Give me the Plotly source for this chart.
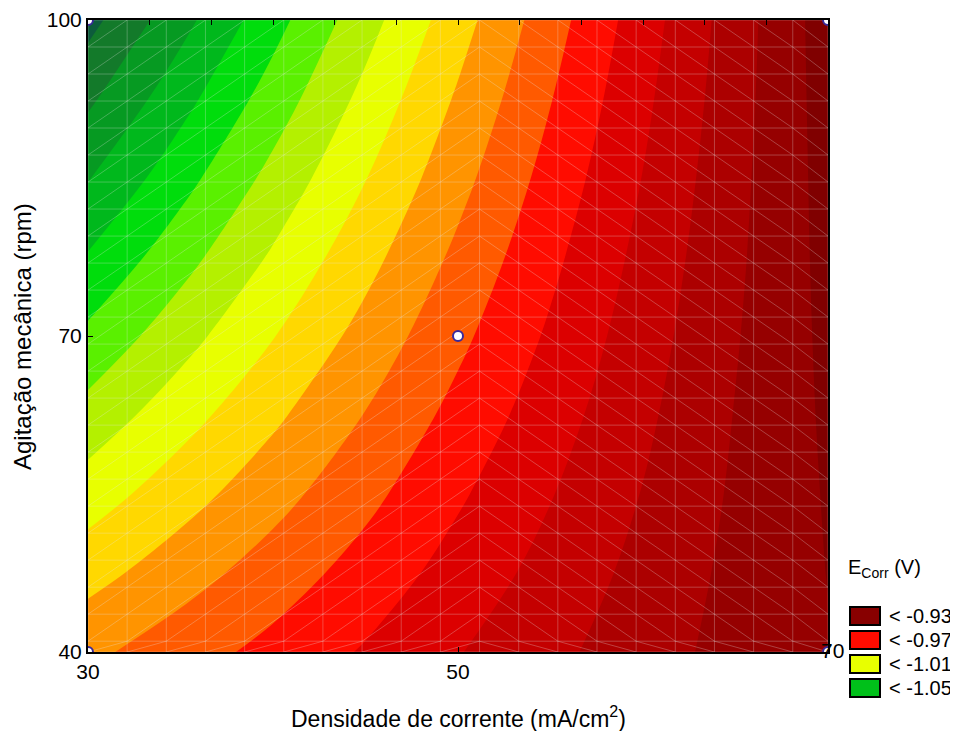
import numpy as np
import plotly.graph_objects as go

# ---------------- data ----------------
x_density = [30, 35, 40, 45, 50, 55, 60, 65, 70]            # mA/cm2
y_agitation = [40, 47.5, 55, 62.5, 70, 77.5, 85, 92.5, 100]  # rpm
# E_corr (V), one row per agitation value
ecorr = [
    [-0.9923, -0.9845, -0.9770, -0.9690, -0.9605, -0.9525, -0.9445, -0.9365, -0.9305],
    [-1.0037, -0.9944, -0.9853, -0.9759, -0.9660, -0.9565, -0.9470, -0.9375, -0.9298],
    [-1.0151, -1.0043, -0.9937, -0.9828, -0.9714, -0.9605, -0.9496, -0.9386, -0.9292],
    [-1.0264, -1.0141, -1.0020, -0.9896, -0.9769, -0.9645, -0.9521, -0.9396, -0.9285],
    [-1.0378, -1.0240, -1.0104, -0.9965, -0.9824, -0.9685, -0.9546, -0.9407, -0.9278],
    [-1.0492, -1.0339, -1.0187, -1.0034, -0.9878, -0.9724, -0.9571, -0.9418, -0.9271],
    [-1.0606, -1.0438, -1.0270, -1.0103, -0.9933, -0.9764, -0.9597, -0.9428, -0.9265],
    [-1.0719, -1.0536, -1.0354, -1.0171, -0.9987, -0.9804, -0.9622, -0.9439, -0.9258],
    [-1.0833, -1.0635, -1.0437, -1.0240, -1.0042, -0.9844, -0.9647, -0.9449, -0.9251],
]
design_x = [50, 30, 30, 70, 70]
design_y = [70, 40, 100, 40, 100]

x_tick_vals = [30, 50, 70]
y_tick_vals = [40, 70, 100]
legend_labels = ["< -0.93", "< -0.97", "< -1.01", "< -1.05"]
legend_colors = ["#880000", "#ff0c00", "#e8ff00", "#00c01a"]

level_start, level_end, level_size = -1.08, -0.93, 0.01
band_colors = [
    "#0d5c3c", "#137a2a", "#069a22", "#00b81c", "#00dd0c", "#5af000",
    "#b4f000", "#e8ff00", "#ffd800", "#ff9400", "#ff5a00", "#ff0c00",
    "#dc0000", "#c40000", "#ac0000", "#960000", "#800000",
]

# ---------------- figure ----------------
FONT = "Arial, Liberation Sans, sans-serif"
X0, X1, Y0, Y1 = 30, 70, 40, 100

n = len(band_colors) - 1
edges = [i / n for i in range(n)] + [0.995, 1.0]
cscale = []
for k, c in enumerate(band_colors):
    cscale.append([edges[k], c])
    cscale.append([edges[k + 1], c])

fig = go.Figure()
fig.add_trace(go.Contour(
    x=x_density, y=y_agitation, z=ecorr,
    autocontour=False,
    contours=dict(start=level_start, end=level_end, size=level_size,
                  coloring="fill", showlines=False),
    colorscale=cscale, showscale=False, line_width=0, line_smoothing=1,
    hoverinfo="skip",
))

# faint triangulated mesh overlay
mx = np.arange(X0, X1 + 1e-9, 40 / 18.9)
my = np.arange(Y1, Y0 - 1e-9, -60 / 23.4)[::-1]
mx = np.append(mx, X1) if mx[-1] < X1 - 0.5 else mx
my = np.insert(my, 0, Y0) if my[0] > Y0 + 0.5 else my
lx, ly = [], []
for xv in mx:
    lx += [xv, xv, None]; ly += [Y0, Y1, None]
for yv in my:
    lx += [X0, X1, None]; ly += [yv, yv, None]
for i in range(len(mx) - 1):
    for j in range(len(my) - 1):
        if mx[i] < 51:
            lx += [mx[i], mx[i + 1], None]; ly += [my[j], my[j + 1], None]
        else:
            lx += [mx[i], mx[i + 1], None]; ly += [my[j + 1], my[j], None]
fig.add_trace(go.Scatter(x=lx, y=ly, mode="lines",
                         line=dict(color="rgba(235,235,235,0.28)", width=1),
                         hoverinfo="skip", showlegend=False))

fig.add_trace(go.Scatter(
    x=design_x, y=design_y, mode="markers",
    marker=dict(size=10, color="white", line=dict(color="#3a2a9a", width=2)),
    cliponaxis=True, showlegend=False, hoverinfo="skip",
))

# top minor ticks axis
fig.add_trace(go.Scatter(x=[X0, X1], y=[Y0, Y0], xaxis="x2", mode="markers",
                         marker=dict(opacity=0), showlegend=False, hoverinfo="skip"))

# page body has an 8px margin, so offset the figure margins by it
fig.update_layout(
    width=958, height=731,
    margin=dict(l=80, r=138, t=12, b=87, autoexpand=False),
    paper_bgcolor="white", plot_bgcolor="white",
    font=dict(family=FONT, size=20, color="black"),
    showlegend=False,
    xaxis=dict(range=[X0, X1], tickvals=x_tick_vals[:2], ticktext=[str(v) for v in x_tick_vals[:2]],
               ticks="inside", ticklen=5, tickcolor="black", showgrid=False, zeroline=False,
               showline=True, linecolor="black", linewidth=2, mirror=True,
               tickfont=dict(size=21)),
    xaxis2=dict(range=[X0, X1], overlaying="x", side="top", dtick=40 / 12, tick0=X0,
                ticks="inside", ticklen=5, tickcolor="black", showticklabels=False,
                showgrid=False, zeroline=False, showline=False),
    yaxis=dict(range=[Y0, Y1], tickvals=y_tick_vals, ticks="inside", ticklen=5, tickcolor="black",
               showgrid=False, zeroline=False, showline=True, linecolor="black", linewidth=2,
               mirror=True, tickfont=dict(size=21)),
)

PW, PH = 740.0, 632.0
def px(xp):
    return (xp - 88) / PW
def py(yp):
    return (652 - yp) / PH

# axis titles
fig.add_annotation(x=px(458), y=py(717), xref="paper", yref="paper",
                   text="Densidade de corrente (mA/cm<sup>2</sup>)", showarrow=False,
                   xanchor="center", yanchor="middle", font=dict(size=23))
fig.add_annotation(x=px(22), y=py(337), xref="paper", yref="paper",
                   text="Agitação mecânica (rpm)", showarrow=False, textangle=-90,
                   xanchor="center", yanchor="middle", font=dict(size=24))

# "70" label sits at the lower-right corner, as in the reference
fig.add_annotation(x=x_tick_vals[2], y=py(650), xref="x", yref="paper", text=str(x_tick_vals[2]),
                   showarrow=False, xanchor="center", yanchor="middle", xshift=4,
                   font=dict(size=21))

# legend block
fig.add_annotation(x=px(846), y=py(568), xref="paper", yref="paper",
                   text="E<sub>Corr</sub> (V)", showarrow=False, xanchor="left",
                   yanchor="middle", font=dict(size=20))
for i, (lab, col) in enumerate(zip(legend_labels, legend_colors)):
    yc = 616 + 24 * i
    fig.add_shape(type="rect", xref="paper", yref="paper",
                  x0=px(850), x1=px(880), y0=py(yc + 9), y1=py(yc - 9),
                  fillcolor=col, line=dict(color="black", width=2))
    fig.add_annotation(x=px(887), y=py(yc), xref="paper", yref="paper", text=lab,
                       showarrow=False, xanchor="left", yanchor="middle",
                       font=dict(size=20))

fig.write_html("out.html")
